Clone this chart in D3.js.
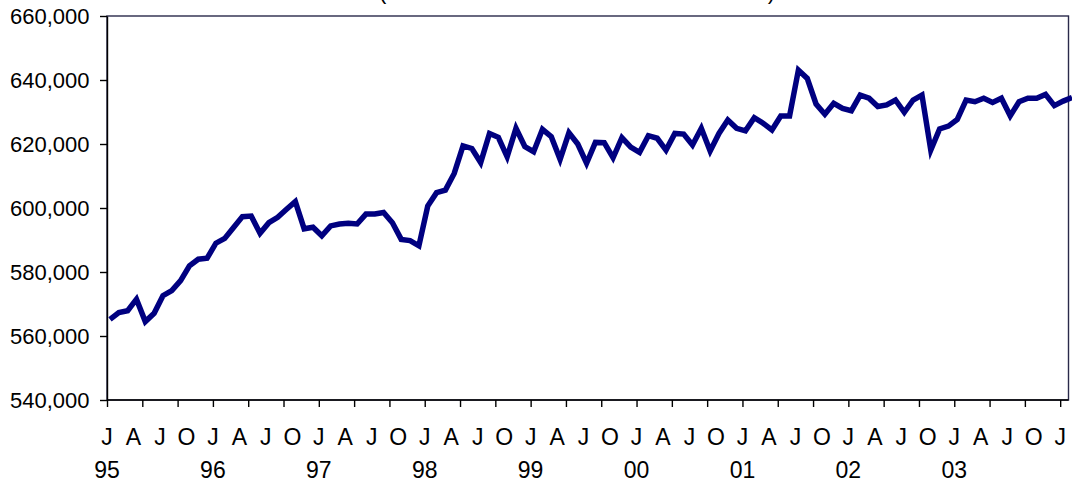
<!DOCTYPE html>
<html><head><meta charset="utf-8">
<script src="https://cdn.jsdelivr.net/npm/d3@7"></script>
<style>
body{margin:0;background:#fff}
svg{display:block}
text{font-family:"Liberation Sans",Arial,sans-serif;fill:#000}
</style>
</head><body>
<svg id="c" width="1072" height="482"></svg>
<script>
// Monthly values (thousands), Jan 1995 .. Feb 2004
const values = [
  565.2,567.3,567.9,571.5,564.5,567.1,572.6,574.2,577.3,581.9,584.0,584.3,
  589.0,590.5,593.9,597.3,597.5,592.1,595.4,597.1,599.6,602.0,593.5,594.0,
  591.3,594.4,595.0,595.2,595.0,598.1,598.1,598.6,595.4,590.2,589.8,588.2,
  600.6,604.8,605.6,610.8,619.4,618.6,614.2,623.3,622.1,616.0,624.9,619.2,
  617.6,624.6,622.3,615.2,623.5,620.0,614.0,620.5,620.4,615.7,622.0,619.0,
  617.4,622.6,621.8,618.1,623.3,623.1,619.7,624.9,617.8,623.3,627.5,624.9,
  624.1,628.2,626.5,624.4,628.75,628.75,643.1,640.5,632.5,629.3,632.7,631.1,
  630.4,635.3,634.3,631.7,632.2,633.75,629.9,633.75,635.3,618.1,624.7,625.6,
  627.7,633.75,633.2,634.3,633.0,634.3,628.8,633.2,634.3,634.3,635.5,632.0,
  633.4,634.5
];
const yTickValues = [540000,560000,580000,600000,620000,640000,660000];
const quarterLabels = ["J","A","J","O"];
const yearLabels = ["95","96","97","98","99","00","01","02","03"];
const titleText = "(Total Nonfarm Jobs in Thousands)";

const svg = d3.select("#c");
const x = d3.scaleLinear().domain([0, values.length - 1]).range([107, 1069]);
const xData = d3.scaleLinear().domain([0, values.length - 1]).range([110, 1072]);
const y = d3.scaleLinear().domain([540000, 660000]).range([400, 16]);

// title (mostly above the visible area, as in the reference)
svg.append("text")
  .attr("x", 577).attr("y", -1.5)
  .attr("text-anchor", "middle")
  .attr("font-size", 22)
  .attr("textLength", 396).attr("lengthAdjust", "spacing")
  .text(titleText);

// plot border
svg.append("rect")
  .attr("x", x(0)).attr("y", y(660000))
  .attr("width", 1068.5 - x(0)).attr("height", y(540000) - y(660000))
  .attr("fill", "none").attr("stroke", "#2a2a4a").attr("stroke-width", 1.4);

// y axis
const yAxis = svg.append("g").attr("transform", `translate(${x(0)},0)`)
  .call(d3.axisLeft(y).tickValues(yTickValues).tickFormat(d3.format(","))
    .tickSize(7).tickSizeOuter(0).tickPadding(10.5));
yAxis.selectAll("text").attr("font-size", 22).style("font-family", '"Liberation Sans",Arial,sans-serif');
yAxis.selectAll("line,path").attr("stroke", "#000").attr("stroke-width", 1.4);

// x axis ticks every 4 months
const xAxis = svg.append("g").attr("transform", `translate(0,${y(540000)})`)
  .call(d3.axisBottom(x).tickValues(d3.range(0, values.length, 4)).tickFormat("")
    .tickSize(7).tickSizeOuter(0));
xAxis.select(".domain").attr("d", `M${x(0)},0H1068.5`);
xAxis.selectAll("line,path").attr("stroke", "#000").attr("stroke-width", 1.4);

// quarter labels
const qs = d3.range(0, values.length, 3);
svg.append("g").selectAll("text").data(qs).join("text")
  .attr("x", d => x(d)).attr("y", 445)
  .attr("text-anchor", "middle").attr("font-size", 23)
  .text(d => quarterLabels[(d / 3) % 4]);

// year labels
svg.append("g").selectAll("text").data(yearLabels).join("text")
  .attr("x", (d, i) => x(i * 12)).attr("y", 478)
  .attr("text-anchor", "middle").attr("font-size", 23)
  .text(d => d);

// data line
svg.append("path").datum(values)
  .attr("fill", "none").attr("stroke", "#000080").attr("stroke-width", 5.5)
  .attr("d", d3.line().x((d, i) => xData(i)).y(d => y(d * 1000)));
</script>
</body></html>
